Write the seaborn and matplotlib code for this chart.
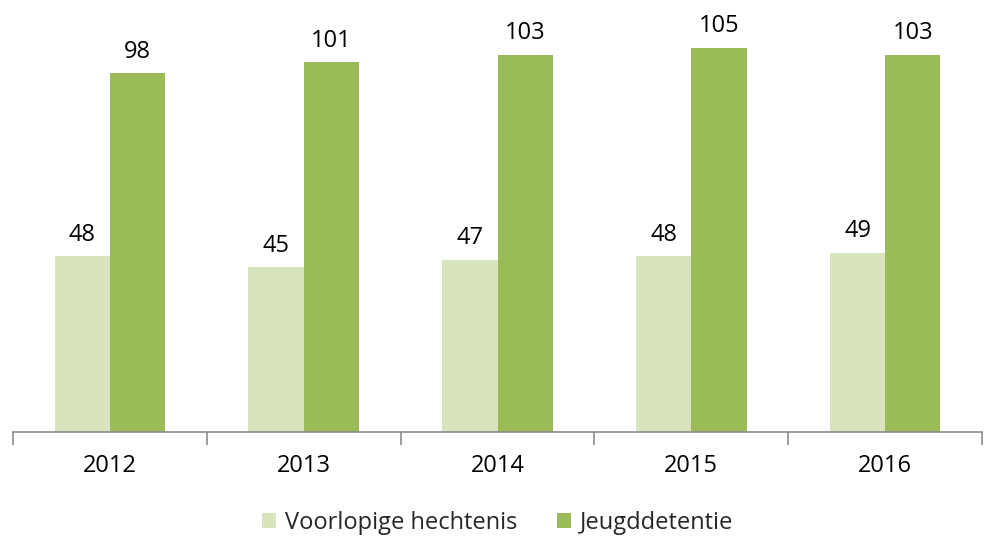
import pandas as pd
import numpy as np
import matplotlib
matplotlib.use("Agg")
import matplotlib.pyplot as plt
import seaborn as sns

# data
years = ["2012", "2013", "2014", "2015", "2016"]
voorlopig = [48, 45, 47, 48, 49]
jeugd = [98, 101, 103, 105, 103]
series_names = ["Voorlopige hechtenis", "Jeugddetentie"]
colors = ["#D7E4BD", "#9BBB59"]

df = pd.DataFrame({
    "jaar": years * 2,
    "aantal": voorlopig + jeugd,
    "reeks": [series_names[0]] * len(years) + [series_names[1]] * len(years),
})

sns.set_style("white")
plt.rcParams["font.family"] = ["Open Sans", "DejaVu Sans"]

fig = plt.figure(figsize=(9.85, 5.39), dpi=100)
ax = fig.add_axes([0.0132, 0.1985, 0.9838, 0.7811])

sns.barplot(data=df, x="jaar", y="aantal", hue="reeks", palette=colors,
            width=0.57, saturation=1, linewidth=0, ax=ax)

# value labels above the bars
for cont in ax.containers:
    ax.bar_label(cont, padding=7, fontsize=17, color="#000000")

ax.set_ylim(0, 115)
ax.set_xlim(-0.5, 4.5)
ax.set_xlabel("")
ax.set_ylabel("")
ax.set_yticks([])

for s in ["top", "right", "left"]:
    ax.spines[s].set_visible(False)
ax.spines["bottom"].set_color("#8c8c8c")
ax.spines["bottom"].set_linewidth(1.2)

# ticks sit between categories, labels at the centres
ax.set_xticks(np.arange(-0.5, 5, 1), minor=True)
ax.tick_params(axis="x", which="minor", length=9, width=1.2, color="#8c8c8c",
               direction="out", bottom=True)
ax.tick_params(axis="x", which="major", length=0, labelsize=17, pad=16,
               labelcolor="#000000")

leg = ax.legend(loc="lower center", bbox_to_anchor=(0.5, -0.295), ncol=2,
                frameon=False, fontsize=17, handlelength=0.6, handleheight=0.6,
                handletextpad=0.35, columnspacing=1.7)

fig.savefig("out.png", dpi=100)
